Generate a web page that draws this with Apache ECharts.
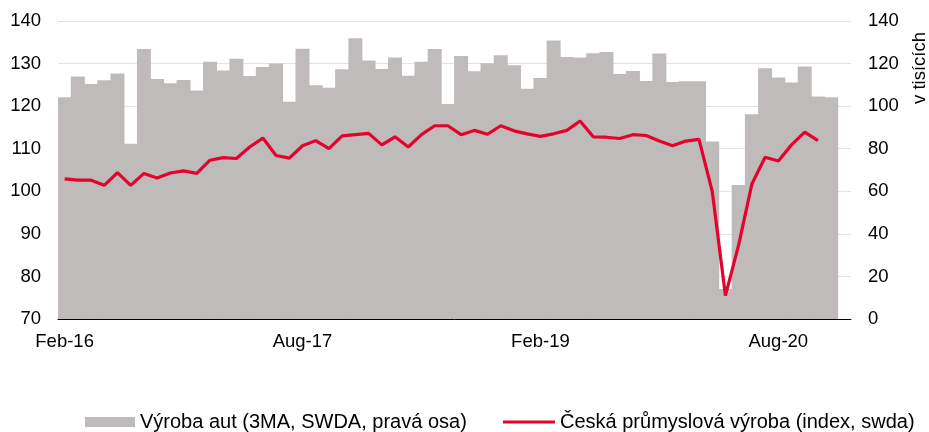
<!DOCTYPE html>
<html>
<head>
<meta charset="utf-8">
<script src="https://cdn.jsdelivr.net/npm/echarts@6/dist/echarts.min.js"></script>
<style>
  html, body { margin: 0; padding: 0; background: #fff; }
  #chart { width: 929px; height: 432px; }
</style>
</head>
<body>
<div id="chart"></div>
<script>
// monthly, Feb-16 .. Jan-21
var months = [
  'Feb-16','Mar-16','Apr-16','May-16','Jun-16','Jul-16','Aug-16','Sep-16','Oct-16','Nov-16','Dec-16','Jan-17',
  'Feb-17','Mar-17','Apr-17','May-17','Jun-17','Jul-17','Aug-17','Sep-17','Oct-17','Nov-17','Dec-17','Jan-18',
  'Feb-18','Mar-18','Apr-18','May-18','Jun-18','Jul-18','Aug-18','Sep-18','Oct-18','Nov-18','Dec-18','Jan-19',
  'Feb-19','Mar-19','Apr-19','May-19','Jun-19','Jul-19','Aug-19','Sep-19','Oct-19','Nov-19','Dec-19','Jan-20',
  'Feb-20','Mar-20','Apr-20','May-20','Jun-20','Jul-20','Aug-20','Sep-20','Oct-20','Nov-20','Dec-20','Jan-21'
];

// Výroba aut (tis., pravá osa)
var vyrobaAut = [
  104.2, 113.9, 110.4, 112.2, 115.3, 82.3, 126.9, 112.8, 110.7, 112.3,
  107.3, 120.9, 116.8, 122.3, 114.2, 118.4, 120.0, 102.1, 127.0, 109.8,
  108.6, 117.3, 131.9, 121.5, 117.5, 122.8, 114.3, 120.9, 126.9, 101.0,
  123.6, 116.4, 120.1, 123.9, 119.2, 108.2, 113.2, 130.8, 123.1, 122.8,
  124.8, 125.4, 115.1, 116.5, 111.8, 124.7, 111.4, 111.7, 111.7, 83.4,
  14.1, 62.9, 96.2, 117.8, 113.4, 111.1, 118.6, 104.5, 104.2, '-'
];

// Česká průmyslová výroba (index)
var prumysl = [
  102.9, 102.6, 102.6, 101.4, 104.4, 101.4, 104.2, 103.1, 104.3, 104.8,
  104.2, 107.3, 107.9, 107.7, 110.4, 112.5, 108.4, 107.8, 110.7, 111.9,
  110.0, 113.0, 113.3, 113.6, 110.9, 112.8, 110.4, 113.3, 115.4, 115.4,
  113.3, 114.3, 113.4, 115.4, 114.2, 113.5, 112.9, 113.5, 114.3, 116.5,
  112.8, 112.7, 112.4, 113.3, 113.1, 111.8, 110.7, 111.8, 112.2, 100.0,
  75.5, 87.4, 101.7, 108.0, 107.1, 110.9, 113.9, 111.9, '-', '-'
];

var BAR_NAME = 'Výroba aut (3MA, SWDA, pravá osa)';
var LINE_NAME = 'Česká průmyslová výroba (index, swda)';
var FONT = "'Liberation Sans', Arial, sans-serif";
var GREY = '#bfbbbb';
var RED = '#e4032e';

var chart = echarts.init(document.getElementById('chart'));

var legendText = { fontFamily: FONT, fontSize: 20, color: '#000' };

chart.setOption({
  animation: false,
  textStyle: { fontFamily: FONT },
  grid: { left: 58, right: 78, top: 21, bottom: 113 },
  legend: [
    {
      left: 80,
      top: 407,
      itemWidth: 50,
      itemHeight: 10,
      textStyle: legendText,
      data: [{ name: BAR_NAME, icon: 'rect' }]
    },
    {
      left: 498,
      top: 407,
      itemWidth: 52,
      itemHeight: 3,
      textStyle: legendText,
      data: [{ name: LINE_NAME, icon: 'rect', itemStyle: { color: RED } }]
    }
  ],
  xAxis: {
    type: 'category',
    data: months,
    boundaryGap: true,
    axisLine: { lineStyle: { color: '#000', width: 1 } },
    axisTick: { interval: 17, length: 4, lineStyle: { color: '#888' } },
    axisLabel: { interval: 17, margin: 13, fontSize: 18.5, color: '#000', fontFamily: FONT },
    splitLine: { show: false }
  },
  yAxis: [
    {
      type: 'value',
      min: 70, max: 140, interval: 10,
      axisLine: { show: false },
      axisTick: { show: false },
      axisLabel: { margin: 17, fontSize: 18.5, color: '#000', fontFamily: FONT },
      splitLine: { lineStyle: { color: '#e3e3e3', width: 1 } }
    },
    {
      type: 'value',
      min: 0, max: 140, interval: 20,
      axisLine: { show: false },
      axisTick: { show: false },
      axisLabel: { margin: 17, fontSize: 18.5, color: '#000', fontFamily: FONT },
      splitLine: { show: false }
    }
  ],
  graphic: [{
    type: 'text',
    x: 920,
    y: 68,
    rotation: Math.PI / 2,
    style: {
      text: 'v tisících',
      fontSize: 18.5,
      fontFamily: FONT,
      fill: '#000',
      align: 'center',
      verticalAlign: 'middle'
    }
  }],
  series: [
    {
      name: BAR_NAME,
      type: 'bar',
      yAxisIndex: 1,
      barWidth: 14,   // a touch wider than the band so no hairline gaps show
      itemStyle: { color: GREY },
      data: vyrobaAut
    },
    {
      name: LINE_NAME,
      type: 'line',
      yAxisIndex: 0,
      symbol: 'none',
      lineStyle: { color: RED, width: 3.2 },
      itemStyle: { color: RED },
      data: prumysl
    }
  ]
});
</script>
</body>
</html>
